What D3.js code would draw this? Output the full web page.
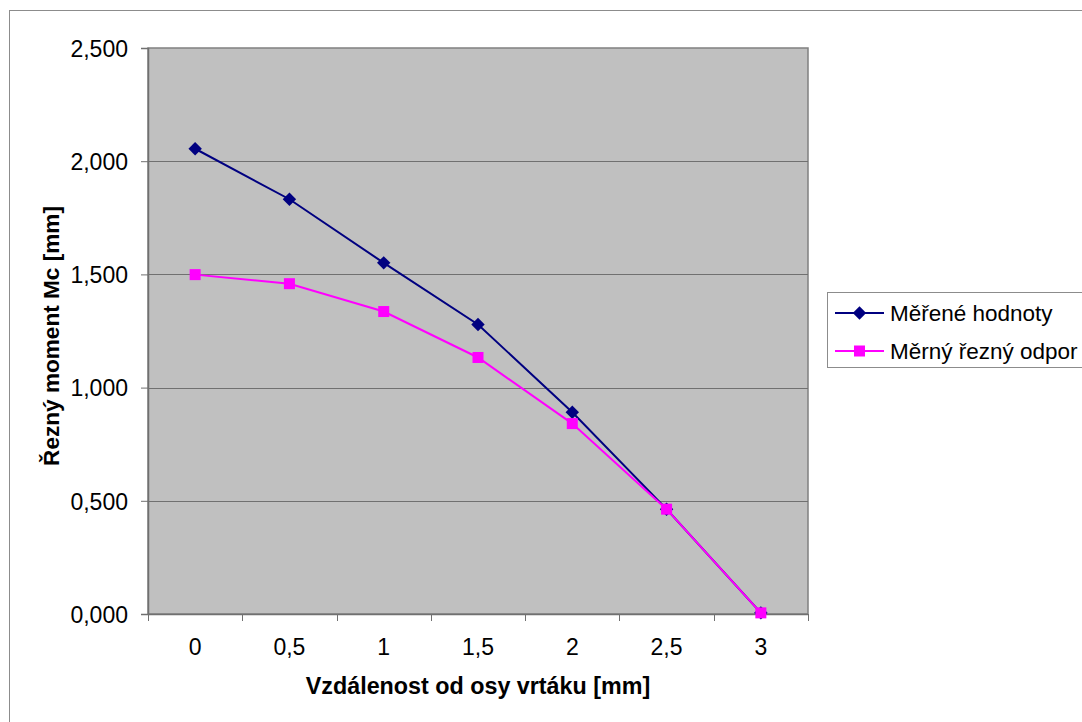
<!DOCTYPE html>
<html><head><meta charset="utf-8">
<script src="https://cdn.jsdelivr.net/npm/d3@7"></script>
<style>html,body{margin:0;padding:0;background:#fff;}svg{display:block;font-family:"Liberation Sans",Arial,sans-serif;}</style>
</head><body>
<svg id="chart" width="1082" height="722"></svg>
<script>
const categories = ["0", "0,5", "1", "1,5", "2", "2,5", "3"];
const seriesNames = ["Měřené hodnoty", "Měrný řezný odpor"];
const measured = [2.055, 1.832, 1.551, 1.279, 0.891, 0.463, 0.005];
const specific = [1.499, 1.459, 1.336, 1.133, 0.841, 0.463, 0.005];
const yTicks = [0, 0.5, 1.0, 1.5, 2.0, 2.5];
const xTitle = "Vzdálenost od osy vrtáku [mm]";
const yTitle = "Řezný moment Mc [mm]";

const svg = d3.select("#chart");
const L = 148, R = 808, T = 48, B = 614;
const x = d3.scaleBand().domain(categories).range([L, R]);
const y = d3.scaleLinear().domain([0, 2.5]).range([B, T]);
const fmt = v => d3.format(".3f")(v).replace(".", ",");

// outer border
svg.append("rect").attr("x", 9.5).attr("y", 10.5).attr("width", 1100).attr("height", 730)
  .attr("fill", "#fff").attr("stroke", "#8c8c8c").attr("stroke-width", 1);

// plot area
svg.append("rect").attr("x", L).attr("y", T).attr("width", R - L).attr("height", B - T)
  .attr("fill", "#c0c0c0").attr("stroke", "#808080").attr("stroke-width", 1.5);

// gridlines
svg.append("g").selectAll("line").data(yTicks.filter(d => d > 0 && d < 2.5)).join("line")
  .attr("x1", L).attr("x2", R).attr("y1", d => Math.round(y(d)) + 0.5).attr("y2", d => Math.round(y(d)) + 0.5)
  .attr("stroke", "#707070").attr("stroke-width", 1);

// y axis
const yAxis = d3.axisLeft(y).tickValues(yTicks).tickFormat(fmt).tickSize(7).tickPadding(13);
const gy = svg.append("g").attr("transform", `translate(${L},0)`).call(yAxis);
gy.select(".domain").attr("stroke", "#707070").attr("stroke-width", 1.5);
gy.selectAll(".tick line").attr("stroke", "#707070");
gy.selectAll(".tick text").attr("font-size", 23).attr("fill", "#000").attr("dy", "0.36em")
  .attr("font-family", "Liberation Sans, Arial, sans-serif");

// x axis
const gx = svg.append("g").attr("transform", `translate(0,${B})`);
gx.append("line").attr("x1", L).attr("x2", R).attr("y1", 0.5).attr("y2", 0.5).attr("stroke", "#707070").attr("stroke-width", 1.5);
const bounds = categories.map(c => x(c)).concat([R]);
gx.selectAll("line.tk").data(bounds).join("line").attr("class", "tk")
  .attr("x1", d => Math.round(d) + 0.5).attr("x2", d => Math.round(d) + 0.5).attr("y1", 0).attr("y2", 7)
  .attr("stroke", "#707070");
gx.selectAll("text").data(categories).join("text")
  .attr("x", d => x(d) + x.bandwidth() / 2).attr("y", 41)
  .attr("text-anchor", "middle").attr("font-size", 23).attr("fill", "#000").text(d => d);

// titles
svg.append("text").attr("x", (L + R) / 2).attr("y", 694).attr("text-anchor", "middle")
  .attr("font-size", 23.3).attr("font-weight", "bold").text(xTitle);
svg.append("text").attr("transform", `translate(59,336) rotate(-90)`).attr("text-anchor", "middle")
  .attr("font-size", 22.6).attr("font-weight", "bold").text(yTitle);

const cx = c => x(c) + x.bandwidth() / 2;
const line = d3.line().x((d, i) => cx(categories[i])).y(d => y(d));
const colors = ["#000080", "#ff00ff"];
const allSeries = [measured, specific];

allSeries.forEach((s, k) => {
  svg.append("path").datum(s).attr("d", line).attr("fill", "none")
    .attr("stroke", colors[k]).attr("stroke-width", 2);
});
// markers
svg.append("g").selectAll("path").data(measured).join("path")
  .attr("d", d3.symbol().type(d3.symbolSquare).size(90)())
  .attr("transform", (d, i) => `translate(${cx(categories[i])},${y(d)}) rotate(45)`)
  .attr("fill", colors[0]);
svg.append("g").selectAll("rect").data(specific).join("rect")
  .attr("x", (d, i) => cx(categories[i]) - 5.5).attr("y", d => y(d) - 5.5)
  .attr("width", 11).attr("height", 11).attr("fill", colors[1]);

// legend
const lg = svg.append("g");
lg.append("rect").attr("x", 827.5).attr("y", 292.5).attr("width", 300).attr("height", 75)
  .attr("fill", "#fff").attr("stroke", "#8c8c8c");
seriesNames.forEach((n, k) => {
  const yy = 313 + k * 38;
  lg.append("line").attr("x1", 835).attr("x2", 884).attr("y1", yy).attr("y2", yy)
    .attr("stroke", colors[k]).attr("stroke-width", 2);
  if (k === 0) {
    lg.append("path").attr("d", d3.symbol().type(d3.symbolSquare).size(90)())
      .attr("transform", `translate(859.5,${yy}) rotate(45)`).attr("fill", colors[0]);
  } else {
    lg.append("rect").attr("x", 854).attr("y", yy - 5.5).attr("width", 11).attr("height", 11).attr("fill", colors[1]);
  }
  lg.append("text").attr("x", 890).attr("y", yy + 8).attr("font-size", 22.5).attr("fill", "#000").text(n);
});
</script>
</body></html>
